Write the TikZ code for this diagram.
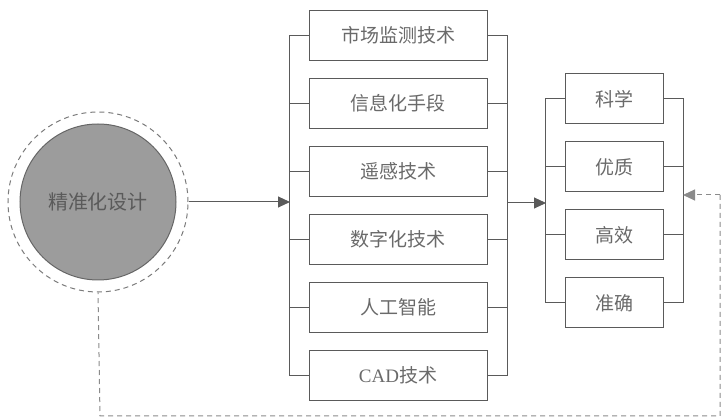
\documentclass[tikz,border=0pt]{standalone}
\usepackage{fontspec}
\setmainfont{Noto Sans CJK SC}
\newfontfamily\latinserif{Liberation Serif}
\usetikzlibrary{arrows.meta}
\definecolor{ln}{HTML}{5A5A5A}
\definecolor{tx}{HTML}{6A6A6A}
\definecolor{cf}{HTML}{9C9C9C}
\definecolor{cb}{HTML}{666666}
\tikzset{
  box/.style={draw=ln, line width=1pt, fill=white, text=tx, font=\fontsize{19}{21}\selectfont, minimum height=50pt, inner sep=0pt},
  midbox/.style={box, minimum width=178pt},
  rbox/.style={box, minimum width=98pt},
  conn/.style={draw=ln, line width=1pt},
  arr/.style={conn, -{Triangle[length=12pt,width=11pt]}},
  fb/.style={draw=ln!70, line width=1pt, dash pattern=on 5pt off 4pt},
}
\begin{document}
\begin{tikzpicture}[x=1pt,y=-1pt]
\useasboundingbox (0,0) rectangle (721,419);
\fill[white] (0,0) rectangle (721,419);

% circle
\node[circle, draw=ln!80, line width=1pt, dash pattern=on 5pt off 4pt, minimum size=180pt, inner sep=0pt] (co) at (98,202) {};
\node[circle, draw=cb, line width=1pt, fill=cf, minimum size=156pt, inner sep=0pt, text=ln, font=\fontsize{20}{22}\selectfont] (c) at (98,202) {精准化设计};

% middle boxes
\node[midbox] (m1) at (398,35.5) {市场监测技术};
\node[midbox] (m2) at (398,103.5) {信息化手段};
\node[midbox] (m3) at (398,171.5) {遥感技术};
\node[midbox] (m4) at (398,239.5) {数字化技术};
\node[midbox] (m5) at (398,307.5) {人工智能};
\node[midbox] (m6) at (398,375.5) {{\latinserif CAD}技术};

% right boxes
\node[rbox] (r1) at (614,99) {科学};
\node[rbox] (r2) at (614,167) {优质};
\node[rbox] (r3) at (614,235) {高效};
\node[rbox] (r4) at (614,303) {准确};

% brackets middle
\draw[conn] (m1.west) -- ++(-19,0) |- (m6.west);
\foreach \i in {2,3,4,5} \draw[conn] (m\i.west) -- ++(-19,0);
\draw[conn] (m1.east) -- ++(20,0) |- (m6.east);
\foreach \i in {2,3,4,5} \draw[conn] (m\i.east) -- ++(20,0);

% brackets right
\draw[conn] (r1.west) -- ++(-19,0) |- (r4.west);
\foreach \i in {2,3} \draw[conn] (r\i.west) -- ++(-19,0);
\draw[conn] (r1.east) -- ++(20,0) |- (r4.east);
\foreach \i in {2,3} \draw[conn] (r\i.east) -- ++(20,0);

% arrows
\coordinate (L1) at (290,202);
\draw[arr] (co.east) -- (L1);
\coordinate (R1) at (507,203);
\coordinate (L2) at (546,203);
\draw[arr] (R1) -- (L2);

% feedback
\coordinate (F0) at (720,195);
\coordinate (F1) at (683,195);
\coordinate (F2) at (720,416);
\coordinate (F3) at (100,416);
\draw[fb, -{Triangle[length=12pt,width=11pt]}] (F0) -- (F1);
\draw[fb] (F0) -- (F2) -- (F3) -- (co.south);
\end{tikzpicture}
\end{document}
